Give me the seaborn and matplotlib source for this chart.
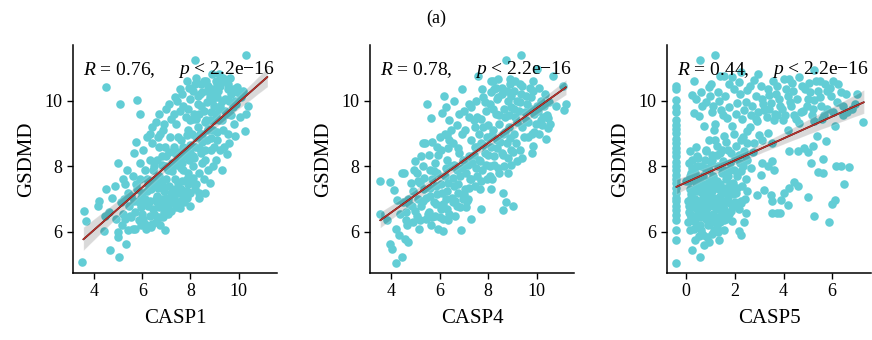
import numpy as np
import pandas as pd
import seaborn as sns
import matplotlib.pyplot as plt

# GSDMD vs CASP1
casp1_x = [3.50, 3.58, 3.68, 4.14, 4.20, 4.40, 4.45, 4.51, 4.51, 4.65,
           4.60, 4.75, 4.90, 4.97, 4.97, 5.00, 4.85, 5.04, 5.07, 5.32,
           5.10, 5.20, 5.30, 5.40, 5.15, 5.45, 5.35, 5.25, 5.80, 5.90,
           5.60, 5.70, 5.80, 5.90, 5.60, 5.75, 5.95, 5.85, 5.55, 5.65,
           5.90, 5.70, 6.05, 6.10, 6.20, 6.30, 6.40, 6.15, 6.25, 6.35,
           6.45, 6.05, 6.30, 6.45, 6.10, 6.40, 6.20, 6.55, 6.60, 6.70,
           6.80, 6.90, 6.73, 6.94, 6.65, 6.85, 6.95, 6.60, 6.75, 6.90,
           6.55, 6.80, 6.70, 7.05, 7.10, 7.20, 7.30, 7.40, 7.10, 7.25,
           7.35, 7.45, 7.15, 7.40, 7.05, 7.30, 7.45, 7.20, 7.35, 7.56,
           7.60, 7.70, 7.80, 7.90, 7.55, 7.65, 7.75, 7.85, 7.95, 7.60,
           7.80, 7.95, 7.70, 7.90, 7.55, 8.00, 8.05, 8.10, 8.20, 8.30,
           8.19, 8.37, 8.25, 8.40, 8.15, 8.35, 8.45, 8.05, 8.30, 8.45,
           8.10, 8.20, 8.40, 8.55, 8.60, 8.70, 8.80, 8.90, 8.65, 8.75,
           8.85, 8.95, 8.55, 8.70, 8.90, 8.60, 8.80, 8.95, 9.05, 9.10,
           9.20, 9.30, 9.40, 9.15, 9.25, 9.35, 9.45, 9.05, 9.20, 9.40,
           9.50, 9.30, 9.55, 9.60, 9.70, 9.80, 9.92, 9.85, 9.65, 9.75,
           9.90, 9.60, 10.05, 10.10, 10.20, 10.27, 10.33, 10.40, 10.30, 6.00,
           6.50, 6.60, 7.00, 7.00, 7.50, 7.50, 8.00, 8.00, 8.50, 8.50,
           9.00, 9.00, 6.25, 6.75, 7.25, 7.75, 8.25, 8.75, 9.25, 5.50,
           5.95, 6.85, 7.60, 8.15, 8.65, 9.10, 9.55, 5.30, 6.40, 7.85,
           5.20, 5.40, 5.55, 5.65, 5.75, 5.85, 5.95, 6.00, 6.10, 6.15,
           6.20, 6.30, 6.35, 6.40, 6.50, 6.55, 6.60, 6.65, 6.70, 6.75,
           6.85, 6.90, 6.95, 7.00, 7.05, 7.15, 7.20, 7.30, 7.35, 7.45,
           7.50, 7.60, 7.65, 7.75, 7.85, 7.90, 8.00, 8.10, 8.25, 8.35,
           6.50, 6.80, 6.95, 7.10, 7.25, 7.40, 7.50, 7.65, 7.70, 7.85,
           8.00, 8.10, 8.25, 8.35, 8.50, 8.60, 8.75, 8.85, 9.00, 9.10,
           7.90, 8.00, 8.10, 8.20, 8.30, 8.35, 8.45, 8.50, 8.55, 8.60,
           8.70, 8.75, 8.80, 8.85, 8.95, 9.00, 9.05, 9.10, 9.20, 9.25,
           9.30, 9.35, 9.45, 9.50, 9.55, 9.60, 9.70, 9.75, 9.85, 9.95,
           6.30, 6.55, 6.70, 6.85, 7.00, 7.20, 7.35, 7.55, 7.70, 7.85]
casp1_y = [5.08, 6.65, 6.33, 6.78, 6.95, 6.04, 6.50, 10.41, 7.31, 5.46,
           6.60, 7.05, 6.40, 8.10, 6.00, 5.85, 7.40, 5.23, 9.90, 5.63,
           6.90, 7.60, 6.40, 7.20, 6.20, 6.80, 7.90, 7.00, 10.03, 9.60,
           6.10, 6.60, 7.30, 8.10, 7.70, 8.75, 6.20, 6.90, 7.10, 8.40,
           7.60, 6.10, 6.40, 7.00, 7.60, 8.20, 8.70, 6.10, 6.80, 7.30,
           7.90, 8.50, 6.50, 6.70, 7.90, 9.20, 8.90, 6.30, 7.10, 7.70,
           8.30, 9.30, 6.22, 6.07, 8.90, 7.40, 8.00, 6.90, 9.00, 6.60,
           7.60, 7.00, 8.60, 6.80, 7.40, 8.00, 8.60, 9.30, 9.90, 6.90,
           7.60, 8.20, 8.90, 6.75, 7.90, 9.60, 10.00, 7.20, 8.40, 6.73,
           7.30, 7.90, 8.50, 9.10, 9.70, 10.20, 6.90, 7.60, 8.20, 8.80,
           9.50, 10.40, 7.10, 7.80, 8.20, 6.78, 7.50, 8.00, 8.60, 9.20,
           11.25, 7.20, 10.70, 10.20, 9.60, 7.80, 8.40, 9.00, 9.90, 10.50,
           10.30, 7.30, 9.00, 7.60, 8.20, 8.80, 9.40, 10.00, 10.60, 7.90,
           8.50, 9.10, 9.70, 10.30, 10.80, 7.20, 7.50, 8.00, 8.20, 8.80,
           9.40, 10.00, 10.60, 10.30, 8.50, 9.10, 9.70, 9.60, 10.80, 8.60,
           8.38, 7.90, 9.00, 9.60, 10.20, 9.30, 10.42, 8.91, 10.70, 9.80,
           9.90, 8.70, 9.50, 10.10, 10.30, 9.07, 11.40, 9.83, 9.60, 7.20,
           7.40, 8.20, 7.60, 8.30, 7.50, 8.90, 8.40, 9.40, 9.00, 8.10,
           9.40, 10.20, 7.45, 7.55, 8.10, 8.30, 9.45, 9.15, 9.85, 6.50,
           6.75, 6.45, 7.95, 8.25, 9.40, 10.55, 10.35, 7.45, 6.25, 7.25,
           6.55, 6.05, 6.45, 6.95, 7.45, 6.35, 7.05, 6.55, 6.25, 6.85,
           7.25, 6.95, 6.15, 7.55, 6.55, 7.00, 6.45, 7.35, 6.75, 6.45,
           6.85, 7.25, 6.65, 7.05, 6.55, 6.95, 6.65, 7.05, 7.30, 6.90,
           7.20, 6.95, 7.55, 7.25, 7.05, 7.45, 7.20, 7.65, 7.45, 7.05,
           8.00, 8.05, 8.60, 8.45, 7.85, 8.05, 8.45, 8.10, 8.60, 8.95,
           8.65, 8.30, 8.90, 8.55, 8.75, 8.50, 9.10, 8.85, 8.60, 9.05,
           9.75, 10.05, 9.45, 10.50, 10.15, 9.60, 9.85, 10.25, 10.60, 9.35,
           9.95, 10.45, 10.10, 9.65, 10.35, 9.85, 10.60, 10.10, 9.75, 10.45,
           9.40, 10.70, 10.05, 9.60, 10.50, 10.00, 9.55, 10.35, 10.00, 10.25,
           9.00, 9.35, 9.60, 9.10, 9.75, 9.45, 10.10, 10.35, 9.85, 10.60]

# GSDMD vs CASP4
casp4_x = [3.53, 3.53, 3.97, 3.84, 3.97, 4.04, 4.22, 4.43, 4.22, 4.59,
           4.69, 4.34, 5.49, 5.63, 6.16, 6.26, 6.09, 6.59, 6.90, 6.13,
           6.86, 6.35, 7.27, 7.69, 8.10, 8.60, 8.60, 8.71, 9.03, 8.92,
           9.20, 8.71, 9.33, 10.02, 7.59, 8.10, 8.24, 10.68, 11.06, 11.19,
           11.10, 10.78, 10.37, 10.44, 10.16, 10.47, 9.85, 9.80, 9.37, 7.12,
           4.25, 4.45, 4.10, 4.35, 4.50,
           4.60, 4.70, 4.80, 4.90, 4.55, 4.85, 4.95, 4.65,
           5.05, 5.10, 5.20, 5.30, 5.40, 5.15, 5.25, 5.35, 5.45, 5.05, 5.30,
           5.55, 5.60, 5.70, 5.80, 5.90, 5.65, 5.75, 5.85, 5.95, 5.60, 5.80, 5.90,
           6.05, 6.10, 6.20, 6.30, 6.40, 6.15, 6.25, 6.35, 6.45, 6.05, 6.30, 6.45, 6.20,
           6.55, 6.60, 6.70, 6.80, 6.90, 6.65, 6.75, 6.85, 6.95, 6.55, 6.80, 6.70, 6.95,
           7.05, 7.10, 7.20, 7.30, 7.40, 7.15, 7.25, 7.35, 7.45, 7.05, 7.30, 7.45, 7.20,
           7.55, 7.60, 7.70, 7.80, 7.90, 7.65, 7.75, 7.85, 7.95, 7.55, 7.80, 7.95, 7.60,
           8.05, 8.10, 8.20, 8.30, 8.40, 8.15, 8.25, 8.35, 8.45, 8.05, 8.30, 8.45, 8.20,
           8.55, 8.60, 8.70, 8.80, 8.90, 8.65, 8.75, 8.85, 8.95, 8.55, 8.80, 8.95,
           9.05, 9.10, 9.20, 9.30, 9.40, 9.15, 9.25, 9.35, 9.45, 9.05, 9.30,
           9.55, 9.60, 9.70, 9.80, 9.90, 9.65, 9.75, 9.85, 9.95,
           10.05, 10.15, 10.25, 10.35, 10.10,
           4.60, 4.75, 4.90, 5.00, 5.10, 5.20, 5.30, 5.35, 5.45, 5.50,
           5.60, 5.70, 5.75, 5.85, 5.90, 6.00, 6.05, 6.15, 6.25, 6.30,
           6.40, 6.50, 6.55, 6.65, 6.75, 6.85, 6.90, 7.00, 7.10, 7.20,
           5.00, 5.25, 5.55, 5.70, 5.95, 6.00, 6.35, 6.60, 6.75, 7.15,
           7.30, 7.40, 7.50, 7.55, 7.65, 7.70, 7.80, 7.90, 8.00, 8.05,
           8.15, 8.25, 8.35, 8.40, 8.50, 8.60, 8.70, 8.80, 8.90, 9.00,
           7.70, 7.85, 8.00, 8.10, 8.20, 8.35, 8.45, 8.55, 8.65, 8.75,
           8.85, 8.95, 9.05, 9.10, 9.20, 9.30, 9.40, 9.50, 9.55, 9.65,
           9.75, 9.85, 9.90, 10.00, 10.10, 10.20, 10.30, 10.40, 10.50, 10.55,
           6.40, 6.70, 7.00, 7.20, 7.50, 7.45, 6.30, 7.75, 8.40, 8.90]
casp4_y = [7.56, 6.55, 7.51, 6.38, 5.63, 5.48, 5.06, 5.23, 6.10, 5.79,
           5.69, 5.92, 9.90, 9.47, 10.15, 9.80, 9.64, 10.00, 10.36, 6.04,
           6.07, 6.35, 6.40, 6.70, 7.31, 7.20, 6.68, 6.90, 6.78, 8.05,
           8.15, 11.25, 11.40, 10.97, 10.76, 10.59, 10.36, 10.76, 10.46, 9.90,
           9.73, 9.85, 8.83, 9.17, 9.42, 9.47, 8.61, 8.40, 8.25, 6.95,
           6.98, 7.80, 7.29, 6.55, 6.90,
           6.60, 7.00, 7.50, 6.30, 7.80, 6.80, 7.90, 6.20,
           6.50, 7.00, 7.50, 8.00, 8.70, 6.10, 6.80, 7.30, 6.40, 7.80, 8.70,
           6.60, 7.10, 7.60, 8.10, 8.60, 6.20, 6.90, 7.40, 6.10, 7.90, 6.50, 7.80,
           6.70, 7.20, 7.70, 8.20, 8.80, 6.40, 7.00, 7.50, 8.00, 8.50, 6.70, 9.10, 9.00,
           6.90, 7.40, 7.90, 8.40, 9.00, 6.50, 7.20, 7.70, 8.20, 8.70, 9.60, 6.80, 7.00,
           7.30, 7.80, 8.30, 8.80, 9.40, 7.00, 7.60, 8.10, 8.60, 9.10, 9.80, 7.40, 9.50,
           7.70, 8.20, 8.70, 9.20, 9.70, 7.30, 7.90, 8.40, 8.90, 9.50, 10.10, 7.60, 9.00,
           8.00, 8.60, 9.10, 9.60, 10.10, 7.60, 8.30, 8.80, 9.30, 9.90, 10.40, 7.80, 10.60,
           8.40, 9.00, 9.50, 10.00, 10.50, 8.00, 8.70, 9.20, 9.80, 10.20, 7.80, 8.50,
           9.00, 9.50, 10.00, 10.50, 9.20, 8.70, 9.70, 10.20, 8.90, 10.30, 8.50,
           9.40, 9.90, 10.40, 9.00, 9.60, 8.90, 10.10, 10.60, 9.30,
           9.70, 10.00, 9.50, 10.20, 9.00,
           6.35, 6.85, 7.25, 6.65, 7.55, 6.35, 6.95, 7.65, 7.05, 6.55,
           7.35, 6.45, 7.85, 6.85, 7.15, 6.45, 7.45, 6.85, 7.95, 7.25,
           6.55, 7.05, 7.65, 6.95, 7.45, 6.75, 7.95, 7.15, 6.75, 7.35,
           8.15, 8.30, 8.35, 8.75, 8.35, 8.90, 8.55, 8.05, 8.55, 8.05,
           7.60, 8.35, 7.95, 8.60, 8.15, 7.55, 8.65, 8.05, 8.35, 7.70,
           8.95, 8.05, 8.55, 7.95, 8.75, 8.35, 9.05, 8.25, 8.85, 8.45,
           9.45, 9.95, 9.25, 10.25, 9.75, 10.05, 9.55, 10.40, 9.75, 10.30,
           9.55, 10.15, 9.75, 10.60, 9.35, 9.95, 10.45, 9.65, 10.15, 9.35,
           9.75, 10.30, 9.05, 9.85, 10.40, 9.25, 9.85, 9.55, 9.95, 9.30,
           9.40, 9.25, 9.70, 9.90, 10.00, 9.20, 8.95, 10.35, 10.65, 10.65]

# GSDMD vs CASP5
casp5_x = [-0.41] * 31 + [
           0.55, 1.20, 0.33, 0.23, 0.40, 0.92, 0.97, 1.54, 1.89, 2.17,
           2.23, 2.51, 2.79, 3.06, 3.41, 3.75, 4.00, 4.23, 4.17, 4.65,
           5.06, 5.27, 5.48, 5.79, 5.93, 6.03, 5.41, 5.27, 6.44, 6.95,
           7.27, 6.10, 5.66, 5.27, 5.75, 5.38, 5.20, 4.86, 5.00, 4.58,
           4.23, 5.13, 5.43, 5.64, 5.61, 6.17, 6.37, 6.69, 6.47, 4.99,
           4.61, 4.44, 4.23, 4.03, 4.17, 3.89, 3.54, 3.48, 3.72, 3.86,
           3.54, 5.27, 5.86, 6.10, 6.00, 3.20, 2.92, 3.06, 3.13, 3.34,
           3.54, 3.61, 2.65, 2.51, 2.23, 2.44, 2.37, 2.17, 2.26, 1.89,
           1.54, 0.23, 0.55, 0.72, 0.92, 0.51, 0.17,
           1.41, 1.68, 1.89, 2.10, 2.37, 2.65, 2.92, 2.51, 2.23, 2.79,
           3.13, 3.34, 3.54, 3.75, 3.96, 4.44, 4.65, 4.17, 3.20, 3.48,
           1.13, 0.92, 1.27, 1.54, 0.72, 0.51, 0.30, 0.65, 1.06, 1.34,
           0.17, 0.44, 0.79, 1.06, 1.82, 2.03, 2.37, 2.51,
           0.05, 0.10, 0.15, 0.20, 0.25, 0.30, 0.35, 0.40, 0.45, 0.10, 0.30, 0.45, 0.20, 0.40,
           0.55, 0.60, 0.65, 0.70, 0.75, 0.80, 0.85, 0.90, 0.95, 0.55, 0.70, 0.90, 0.60, 0.80, 0.65, 0.95,
           1.05, 1.10, 1.20, 1.30, 1.40, 1.15, 1.25, 1.35, 1.45, 1.05, 1.30, 1.45, 1.10, 1.20, 1.40,
           1.55, 1.60, 1.70, 1.80, 1.90, 1.65, 1.75, 1.85, 1.95, 1.55, 1.70, 1.95,
           2.05, 2.10, 2.20, 2.30, 2.40, 2.15, 2.35, 2.45,
           0.00, 0.05, 0.10, 0.15, 0.20, 0.25, 0.30, 0.35, 0.40, 0.45,
           0.50, 0.55, 0.60, 0.65, 0.70, 0.75, 0.80, 0.85, 0.90, 0.95,
           1.00, 1.05, 1.10, 1.15, 1.20, 1.25, 1.30, 1.35, 1.40, 1.45,
           1.50, 1.55, 1.60, 1.65, 1.70, 1.75, 1.80, 1.85, 1.90, 2.00,
           0.25, 0.50, 0.75, 1.00, 1.25, 1.50, 1.75, 2.00, 2.25, 2.40,
           0.35, 0.60, 0.85, 1.15, 0.20, 1.35,
           0.60, 0.80, 1.00, 1.10, 1.30, 1.50, 1.60, 1.75, 1.95, 2.05,
           2.20, 2.30, 2.45, 2.60, 2.70, 2.85, 2.95, 3.10, 3.30, 3.40,
           3.60, 3.70, 3.85, 4.05, 4.30, 4.50, 4.80, 5.00, 5.15, 5.55,
           5.70, 6.20, 6.35, 6.60, 4.40, 4.90, 3.55, 2.95, 1.75, 1.40,
           1.20, 1.45, 1.65, 1.95, 2.15, 2.35, 2.60, 2.75, 3.00, 2.85,
           4.10, 4.25, 4.35, 4.55, 4.70, 4.75, 4.95, 5.10, 5.20, 5.35,
           5.50, 5.60, 5.80, 5.90, 6.05, 6.25, 6.45, 6.55, 6.80, 7.00,
           3.80, 3.95, 3.65, 3.35, 3.15,
           0.10, 0.20, 0.30, 0.40, 0.50, 0.60, 0.70, 0.80, 0.90, 1.00,
           1.10, 1.20, 1.30, 1.40, 1.50, 1.60, 0.15, 0.35, 0.55, 0.75,
           0.95, 1.25, 0.45, 0.65, 1.05, 1.65, 1.85, 2.10, 2.25, 2.50]
casp5_y = [10.45, 10.35, 10.03, 9.80, 9.65, 9.42, 9.27, 9.15, 9.01, 8.84,
           8.72, 8.55, 8.43, 8.31, 8.14, 8.02, 7.89, 7.73, 7.61, 7.48,
           7.33, 7.20, 7.05, 6.93, 6.78, 6.66, 6.51, 6.37, 6.06, 5.75,
           5.05,
           11.25, 11.40, 10.61, 10.18, 10.05, 10.41, 10.13, 10.74, 10.72, 10.56,
           10.86, 10.34, 10.64, 10.44, 10.18, 10.44, 10.66, 10.66, 10.13, 10.72,
           10.54, 10.94, 10.59, 10.28, 10.15, 10.59, 10.28, 10.03, 9.83, 9.91,
           9.34, 9.24, 9.57, 9.37, 8.76, 8.91, 8.61, 8.56, 8.43, 8.46,
           8.46, 8.10, 7.82, 7.80, 8.22, 8.00, 8.02, 7.98, 7.46, 7.06,
           7.39, 7.51, 7.34, 7.19, 6.83, 6.98, 6.93, 7.14, 6.58, 6.58,
           6.58, 6.48, 6.29, 6.98, 6.86, 7.29, 7.14, 7.75, 8.10, 8.02,
           8.15, 7.90, 7.95, 8.20, 6.88, 6.58, 6.29, 6.04, 5.92, 6.32,
           6.07, 5.46, 5.23, 5.61, 5.69, 5.87, 6.07,
           9.73, 9.47, 9.22, 9.93, 9.73, 9.57, 9.37, 9.07, 8.81, 8.71,
           8.81, 9.02, 8.71, 9.57, 9.42, 9.57, 9.32, 9.12, 9.73, 9.93,
           9.12, 8.81, 8.61, 8.91, 9.22, 9.52, 9.62, 9.83, 9.67, 9.98,
           8.46, 8.30, 8.46, 8.36, 8.41, 8.61, 8.46, 8.71,
           6.30, 6.80, 7.30, 7.80, 8.20, 6.50, 7.00, 7.50, 8.00, 7.55, 6.10, 6.70, 7.05, 8.60,
           6.20, 6.70, 7.20, 7.70, 8.20, 6.40, 6.90, 7.40, 7.90, 7.50, 5.90, 6.20, 8.00, 8.50, 6.90, 7.10,
           6.50, 7.00, 7.50, 8.00, 8.40, 6.30, 6.80, 7.30, 7.80, 8.20, 6.00, 6.60, 7.70, 8.80, 7.10,
           6.70, 7.20, 7.70, 8.10, 7.50, 6.40, 6.90, 7.30, 7.90, 7.90, 8.50, 6.80,
           7.20, 7.70, 8.10, 7.40, 7.00, 6.70, 8.00, 7.60,
           7.55, 6.95, 8.10, 6.55, 7.60, 6.90, 7.25, 6.30, 6.95, 7.25,
           6.55, 6.95, 7.35, 6.50, 7.05, 6.75, 7.25, 6.35, 6.75, 7.55,
           6.90, 7.25, 6.55, 7.05, 6.75, 7.55, 6.45, 6.95, 7.45, 6.95,
           7.25, 6.35, 6.90, 7.60, 7.10, 6.55, 7.45, 6.85, 7.15, 6.90,
           7.95, 8.25, 7.95, 8.10, 8.35, 8.15, 7.90, 8.25, 7.85, 8.30,
           5.75, 6.05, 5.85, 6.05, 6.45, 5.75,
           10.25, 9.95, 10.50, 9.85, 10.25, 9.55, 10.15, 9.80, 10.35, 9.60,
           10.20, 9.45, 9.95, 10.45, 9.85, 10.15, 9.65, 10.05, 9.50, 9.75,
           9.40, 10.20, 9.85, 9.55, 9.85, 9.45, 9.70, 10.05, 9.55, 9.85,
           10.50, 9.95, 10.25, 9.65, 10.30, 10.35, 10.60, 10.80, 10.50, 10.75,
           9.30, 8.50, 8.75, 9.00, 8.35, 8.90, 9.20, 8.45, 8.95, 9.45,
           10.35, 9.95, 10.55, 10.05, 9.65, 10.45, 9.85, 10.25, 9.75, 10.60,
           10.10, 9.45, 9.75, 10.40, 9.65, 10.50, 9.55, 10.20, 9.75, 10.20,
           10.05, 9.75, 9.60, 10.35, 9.90,
           6.60, 7.15, 6.75, 7.35, 6.85, 6.45, 7.25, 6.60, 7.00, 6.45,
           7.30, 6.95, 6.70, 6.30, 6.80, 6.55, 7.70, 7.80, 7.65, 7.45,
           6.25, 6.15, 6.15, 5.95, 5.95, 7.35, 6.65, 7.35, 6.95, 7.25]

gene_names = ["CASP1", "CASP4", "CASP5"]
r_values = ["0.76", "0.78", "0.44"]
p_label = "2.2e\u221216"
x_ticks = [[4, 6, 8, 10], [4, 6, 8, 10], [0, 2, 4, 6]]
y_ticks = [6, 8, 10]

sns.set_style("ticks")
plt.rcParams["font.family"] = ["Liberation Serif", "DejaVu Serif"]
plt.rcParams["mathtext.fontset"] = "custom"
plt.rcParams["mathtext.rm"] = "Liberation Serif"
plt.rcParams["mathtext.it"] = "Liberation Serif:italic"
for key in ["text.color", "axes.labelcolor", "xtick.color", "ytick.color"]:
    plt.rcParams[key] = "black"

point_color = "#62CDD5"
line_color = "#B5312B"

fig = plt.figure(figsize=(8.72, 3.4), dpi=100)
lefts = [0.0837, 0.4243, 0.765]
xlims = [(3.12, 11.6), (3.13, 11.53), (-0.79, 7.6)]
fit_spans = [(3.55, 11.2), (3.55, 11.2), (-0.41, 7.3)]

data = [(casp1_x, casp1_y), (casp4_x, casp4_y), (casp5_x, casp5_y)]

for i, (xs, ys) in enumerate(data):
    ax = fig.add_axes([lefts[i], 0.197, 0.234, 0.671])
    df = pd.DataFrame({gene_names[i]: xs, "GSDMD": ys})
    ax.set_xlim(*fit_spans[i])
    # grey confidence band with the points
    sns.regplot(data=df, x=gene_names[i], y="GSDMD", ax=ax, truncate=False,
                seed=0, color="black",
                scatter_kws=dict(s=38, color=point_color, alpha=1, linewidths=0),
                line_kws=dict(lw=1.2))
    # red fit line on top
    sns.regplot(data=df, x=gene_names[i], y="GSDMD", ax=ax, truncate=False,
                scatter=False, ci=None, color=line_color, line_kws=dict(lw=1.2))
    ax.set_xlim(*xlims[i])
    ax.set_ylim(4.75, 11.7)
    ax.set_xticks(x_ticks[i])
    ax.set_yticks(y_ticks)
    ax.tick_params(labelsize=13, length=4, width=1, color="black")
    ax.set_xlabel(gene_names[i], fontsize=15, labelpad=6)
    ax.set_ylabel("GSDMD", fontsize=15, labelpad=6)
    for s in ["left", "bottom"]:
        ax.spines[s].set_linewidth(1.1)
        ax.spines[s].set_color("black")
    sns.despine(ax=ax)
    ax.text(0.05, 0.89, r"$R$ = " + r_values[i] + ",", transform=ax.transAxes,
            fontsize=14, va="center", ha="left")
    ax.text(0.515, 0.89, r"$p$ < " + p_label, transform=ax.transAxes,
            fontsize=14, va="center", ha="left")

fig.text(0.5, 0.947, "(a)", fontsize=13, ha="center", va="center")

fig.savefig("out.png", dpi=100)
